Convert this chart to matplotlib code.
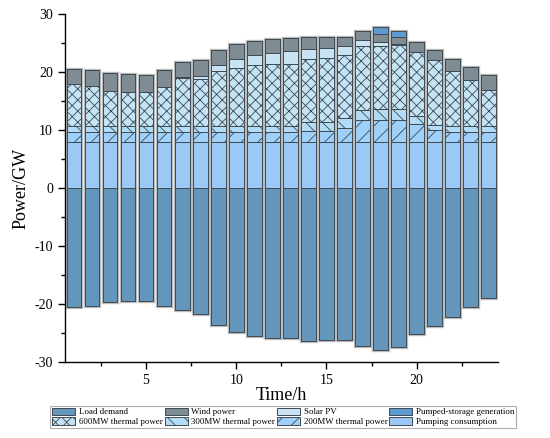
import matplotlib
matplotlib.use("Agg")
import matplotlib.pyplot as plt
import numpy as np

hours = np.arange(1, 25)

pumping = [7.9] * 24
th200 = [1.8] * 13 + [1.9, 2.0, 2.4, 3.8, 3.8, 3.8, 3.2, 2.1, 1.8, 1.8, 1.8]
th300 = [1.0] * 13 + [1.5, 1.5, 1.7, 1.7, 1.9, 1.9, 1.4, 0.9, 1.0, 1.0, 1.0]
th600 = [7.3, 6.9, 6.1, 5.9, 5.9, 6.8, 8.2, 8.1, 9.5, 10.0, 10.5, 10.6,
         10.7, 10.9, 11.0, 10.9, 11.1, 10.9, 11.0, 10.9, 11.1, 9.5, 8.0, 6.2]
solar = [0, 0, 0, 0, 0, 0, 0.2, 0.5, 1.0, 1.5, 1.7, 2.0,
         2.2, 1.8, 1.8, 1.6, 1.0, 0.6, 0.2, 0, 0, 0, 0, 0]
wind = [2.5, 2.7, 3.0, 3.1, 2.9, 2.9, 2.7, 2.7, 2.6, 2.6, 2.5, 2.4,
        2.2, 2.0, 1.8, 1.5, 1.5, 1.4, 1.3, 1.7, 1.8, 2.0, 2.2, 2.6]
ps_gen = [0] * 17 + [1.2, 1.0] + [0] * 5
load = [-20.5, -20.4, -19.6, -19.5, -19.5, -20.4, -21.0, -21.7, -23.6, -24.9, -25.5, -25.9,
        -25.9, -26.3, -26.2, -26.2, -27.2, -28.0, -27.4, -25.1, -23.8, -22.2, -20.6, -19.0]

c_load = "#6396ba"
c_wind = "#7f8c94"
c_solar = "#c8e4f4"
c_psg = "#5b9bd2"
c_600 = "#c4e4f5"
c_300 = "#b2dbf6"
c_200 = "#9fd0fa"
c_pump = "#9cc8f6"
ec = "#3e4a52"

plt.rcParams["hatch.linewidth"] = 0.6
plt.rcParams["font.family"] = "Liberation Serif"
plt.rcParams["axes.unicode_minus"] = False

fig = plt.figure(figsize=(5.5, 4.38), dpi=100)
ax = fig.add_axes([0.118, 0.1735, 0.787, 0.7945])

w = 0.82
kw = dict(width=w, edgecolor=ec, linewidth=0.7, zorder=2)

# soft grey halo around every bar
pos_total = np.sum([pumping, th200, th300, th600, solar, wind, ps_gen], axis=0)
ax.bar(hours, pos_total, width=w, fill=False, edgecolor="#bcbcbc", linewidth=2.4, zorder=1)
ax.bar(hours, load, width=w, fill=False, edgecolor="#bcbcbc", linewidth=2.4, zorder=1)

series = [
    (pumping, c_pump, None, "Pumping consumption"),
    (th200, c_200, "//", "200MW thermal power"),
    (th300, c_300, "\\\\", "300MW thermal power"),
    (th600, c_600, "xxx", "600MW thermal power"),
    (solar, c_solar, None, "Solar PV"),
    (wind, c_wind, None, "Wind power"),
    (ps_gen, c_psg, None, "Pumped-storage generation"),
]
handles = {}
bottom = np.zeros(24)
for vals, col, hatch, lab in series:
    vals = np.array(vals, dtype=float)
    b = ax.bar(hours, vals, bottom=bottom, color=col, hatch=hatch, label=lab, **kw)
    handles[lab] = b
    bottom += vals

handles["Load demand"] = ax.bar(hours, load, color=c_load, label="Load demand", **kw)

ax.set_xlim(0.5, 24.5)
ax.set_ylim(-30, 30)
ax.set_xticks([5, 10, 15, 20])
ax.set_xticks(np.arange(2.5, 24, 2.5), minor=True)
ax.set_yticks(np.arange(-30, 31, 10))
ax.set_yticks(np.arange(-25, 30, 10), minor=True)
ax.tick_params(which="major", direction="out", length=5, width=1, labelsize=10)
ax.tick_params(which="minor", direction="out", length=3, width=1)
for s in ["top", "right"]:
    ax.spines[s].set_visible(False)
for s in ["left", "bottom"]:
    ax.spines[s].set_linewidth(1.0)

ax.set_ylabel("Power/GW", fontsize=13, labelpad=4)
ax.set_xlabel("Time/h", fontsize=13, labelpad=0)

order = ["Load demand", "600MW thermal power", "Wind power", "300MW thermal power",
         "Solar PV", "200MW thermal power", "Pumped-storage generation", "Pumping consumption"]
leg = fig.legend([handles[k] for k in order], order, loc="lower center",
                 bbox_to_anchor=(0.515, 0.022), ncol=4, fontsize=6.4, frameon=True,
                 fancybox=False, edgecolor="#999999", handlelength=2.6, handleheight=0.9,
                 handletextpad=0.4, columnspacing=0.2, labelspacing=0.1,
                 borderpad=0.25, borderaxespad=0)
leg.get_frame().set_linewidth(0.8)

fig.savefig("out.png", dpi=100)
